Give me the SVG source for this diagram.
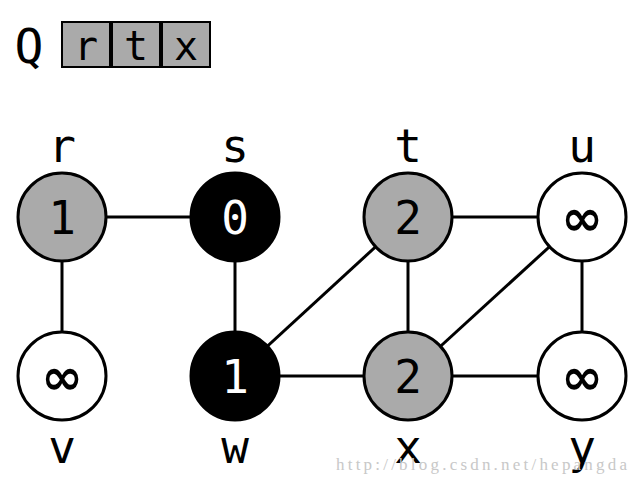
<svg xmlns="http://www.w3.org/2000/svg" width="638" height="488" viewBox="0 0 638 488">
<style>
.n{stroke:#000;stroke-width:3}
.g{fill:#aaaaaa}.b{fill:#000}.w{fill:#fff}
.t{font-family:"DejaVu Sans Mono",monospace;font-size:46px;text-anchor:middle}
.inf{font-family:"DejaVu Sans",sans-serif;font-size:50px;font-weight:bold;text-anchor:middle}
.tw{fill:#fff}
.e line{stroke:#000;stroke-width:3}
.q{fill:#aaaaaa;stroke:#000;stroke-width:2}
.qt{font-family:"DejaVu Sans Mono",monospace;font-size:40px;text-anchor:middle}
</style>
<rect width="638" height="488" fill="#fff"/>
<g id="queue">
<text x="29" y="63" class="qt" style="font-size:48px">Q</text>
<rect x="62" y="22" width="48" height="45" class="q"/>
<rect x="112" y="22" width="48" height="45" class="q"/>
<rect x="162" y="22" width="48" height="45" class="q"/>
<text x="86" y="60" class="qt">r</text>
<text x="136" y="60" class="qt">t</text>
<text x="186" y="60" class="qt">x</text>
</g>
<g class="e" id="edges">
<line x1="62" y1="217" x2="235" y2="217"/>
<line x1="62" y1="217" x2="62" y2="376"/>
<line x1="235" y1="217" x2="235" y2="376"/>
<line x1="235" y1="376" x2="408" y2="217"/>
<line x1="408" y1="217" x2="582" y2="217"/>
<line x1="408" y1="217" x2="408" y2="376"/>
<line x1="582" y1="217" x2="408" y2="376"/>
<line x1="582" y1="217" x2="582" y2="376"/>
<line x1="235" y1="376" x2="582" y2="376"/>
</g>
<g id="r"><circle cx="62" cy="217" r="44" class="n g"/><text x="62" y="234" class="t">1</text><text x="62" y="162" class="t">r</text></g>
<g id="s"><circle cx="235" cy="217" r="44" class="n b"/><text x="235" y="234" class="t tw">0</text><text x="235" y="162" class="t">s</text></g>
<g id="t"><circle cx="408" cy="217" r="44" class="n g"/><text x="408" y="234" class="t">2</text><text x="408" y="162" class="t">t</text></g>
<g id="u"><circle cx="582" cy="217" r="44" class="n w"/><text x="582" y="235" class="inf">∞</text><text x="582" y="162" class="t">u</text></g>
<g id="v"><circle cx="62" cy="376" r="44" class="n w"/><text x="62" y="394" class="inf">∞</text><text x="62" y="463" class="t">v</text></g>
<g id="w"><circle cx="235" cy="376" r="44" class="n b"/><text x="235" y="393" class="t tw">1</text><text x="235" y="463" class="t">w</text></g>
<g id="x"><circle cx="408" cy="376" r="44" class="n g"/><text x="408" y="393" class="t">2</text><text x="408" y="463" class="t">x</text></g>
<g id="y"><circle cx="582" cy="376" r="44" class="n w"/><text x="582" y="394" class="inf">∞</text><text x="582" y="463" class="t">y</text></g>
<text x="336" y="470" font-family="Liberation Serif,serif" font-size="17" fill="#c8c8c8" textLength="291">http://blog.csdn.net/hepangda</text>
</svg>
